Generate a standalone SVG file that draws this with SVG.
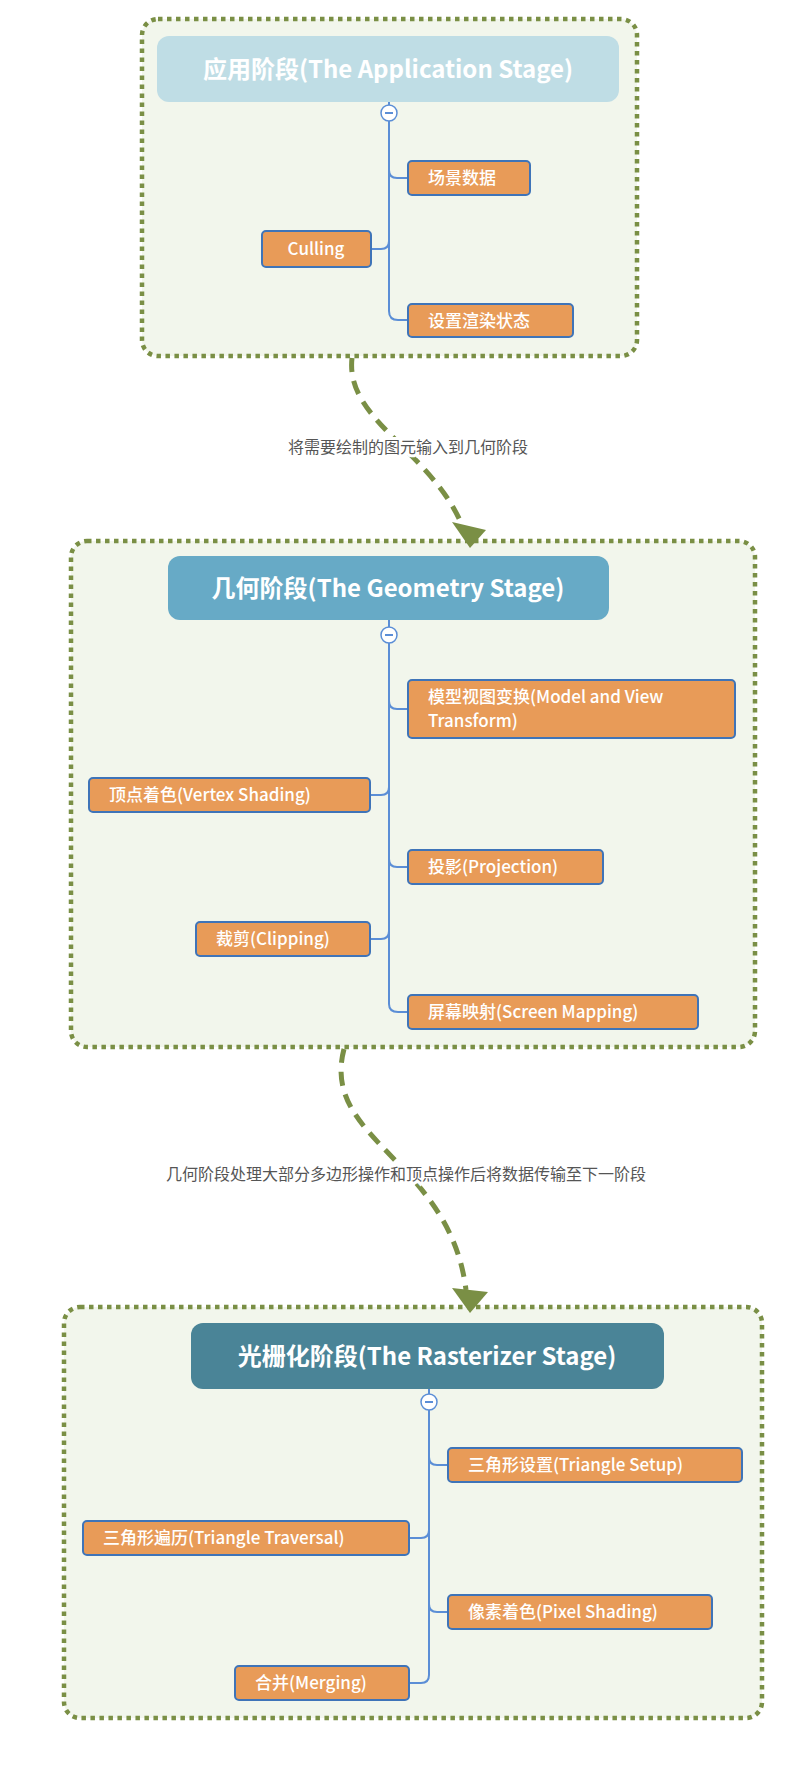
<svg xmlns="http://www.w3.org/2000/svg" width="796" height="1772" viewBox="0 0 796 1772">
<defs>
<style>
.frame{fill:#f2f6ec;stroke:#7a8f45;stroke-width:4.5;stroke-dasharray:4.5 4.5}
.node rect{fill:#e89b58;stroke:#3f74b8;stroke-width:2}
.node text{fill:#fff;font-family:"Noto Sans CJK SC","Noto Sans",sans-serif;font-size:17px;font-weight:500}
.title text{fill:#fff;font-family:"Noto Sans CJK SC","Noto Sans",sans-serif;font-size:24px;font-weight:bold}
.br{fill:none;stroke:#5b8ed6;stroke-width:2}
.col{fill:#fff;stroke:#5b8ed6;stroke-width:1.5}
.flow{fill:none;stroke:#7a8f45;stroke-width:5;stroke-dasharray:14 9}
.lbl{fill:#555;font-family:"Noto Sans CJK SC","Noto Sans",sans-serif;font-size:16px}
</style>
<marker id="ah" markerWidth="10" markerHeight="10" refX="5" refY="8" orient="auto" markerUnits="userSpaceOnUse" viewBox="0 0 10 10"><path d="M0,0 L10,0 L5,10 Z" fill="#7a8f45"/></marker>
</defs>
<g id="frame1"><rect class="frame" x="142" y="19" width="495" height="337" rx="16"/></g>
<g id="frame2"><rect class="frame" x="71" y="541" width="684" height="506" rx="16"/></g>
<g id="frame3"><rect class="frame" x="64" y="1307" width="698" height="411" rx="16"/></g>
<g id="connectors">
<path class="flow" d="M352,358 C345,420 430,450 462,525"/>
<path d="M452,522 L486,530 L470,548 Z" fill="#7a8f45"/>
<path class="flow" d="M344,1049 C320,1140 450,1160 466,1290"/>
<path d="M452,1288 L488,1292 L470,1313 Z" fill="#7a8f45"/>
<path class="br" d="M389,102 V113 M389,121 V311 Q389,320 398,320 H408 M389,170 Q389,178 397,178 H408 M389,241 Q389,249 381,249 H371"/>
<path class="br" d="M389,620 V635 M389,643 V1004 Q389,1012 398,1012 H408 M389,701 Q389,709 397,709 H408 M389,787 Q389,795 381,795 H370 M389,859 Q389,867 397,867 H408 M389,931 Q389,939 381,939 H370"/>
<path class="br" d="M429,1389 V1402 M429,1410 V1675 Q429,1683 421,1683 H409 M429,1457 Q429,1465 437,1465 H448 M429,1530 Q429,1538 421,1538 H409 M429,1604 Q429,1612 437,1612 H448"/>
<circle class="col" cx="389" cy="113" r="8"/><path d="M385,113 H393" stroke="#5b8ed6" stroke-width="2"/>
<circle class="col" cx="389" cy="635" r="8"/><path d="M385,635 H393" stroke="#5b8ed6" stroke-width="2"/>
<circle class="col" cx="429" cy="1402" r="8"/><path d="M425,1402 H433" stroke="#5b8ed6" stroke-width="2"/>
<text class="lbl" x="408" y="453" text-anchor="middle" stroke="#fff" stroke-width="6" paint-order="stroke">将需要绘制的图元输入到几何阶段</text>
<text class="lbl" x="406" y="1180" text-anchor="middle" stroke="#fff" stroke-width="6" paint-order="stroke">几何阶段处理大部分多边形操作和顶点操作后将数据传输至下一阶段</text>
</g>
<g id="t1" class="title"><rect x="157" y="36" width="462" height="66" rx="12" fill="#bfdde5"/><text x="388" y="78" text-anchor="middle">应用阶段(The Application Stage)</text></g>
<g id="t2" class="title"><rect x="168" y="556" width="441" height="64" rx="12" fill="#67aac6"/><text x="388" y="597" text-anchor="middle">几何阶段(The Geometry Stage)</text></g>
<g id="t3" class="title"><rect x="191" y="1323" width="473" height="66" rx="12" fill="#4a8497"/><text x="427" y="1365" text-anchor="middle">光栅化阶段(The Rasterizer Stage)</text></g>
<g id="n1" class="node"><rect x="408" y="161" width="122" height="34" rx="4"/><text x="428" y="184">场景数据</text></g>
<g id="n2" class="node"><rect x="262" y="231" width="109" height="36" rx="4"/><text x="316" y="255" text-anchor="middle">Culling</text></g>
<g id="n3" class="node"><rect x="408" y="304" width="165" height="33" rx="4"/><text x="428" y="327">设置渲染状态</text></g>
<g id="n4" class="node"><rect x="408" y="680" width="327" height="58" rx="4"/><text x="428" y="703">模型视图变换(Model and View</text><text x="428" y="727">Transform)</text></g>
<g id="n5" class="node"><rect x="89" y="778" width="281" height="34" rx="4"/><text x="109" y="801">顶点着色(Vertex Shading)</text></g>
<g id="n6" class="node"><rect x="408" y="850" width="195" height="34" rx="4"/><text x="428" y="873">投影(Projection)</text></g>
<g id="n7" class="node"><rect x="196" y="922" width="174" height="34" rx="4"/><text x="216" y="945">裁剪(Clipping)</text></g>
<g id="n8" class="node"><rect x="408" y="995" width="290" height="34" rx="4"/><text x="428" y="1018">屏幕映射(Screen Mapping)</text></g>
<g id="n9" class="node"><rect x="448" y="1448" width="294" height="34" rx="4"/><text x="468" y="1471">三角形设置(Triangle Setup)</text></g>
<g id="n10" class="node"><rect x="83" y="1521" width="326" height="34" rx="4"/><text x="103" y="1544">三角形遍历(Triangle Traversal)</text></g>
<g id="n11" class="node"><rect x="448" y="1595" width="264" height="34" rx="4"/><text x="468" y="1618">像素着色(Pixel Shading)</text></g>
<g id="n12" class="node"><rect x="235" y="1666" width="174" height="34" rx="4"/><text x="255" y="1689">合并(Merging)</text></g>
</svg>
